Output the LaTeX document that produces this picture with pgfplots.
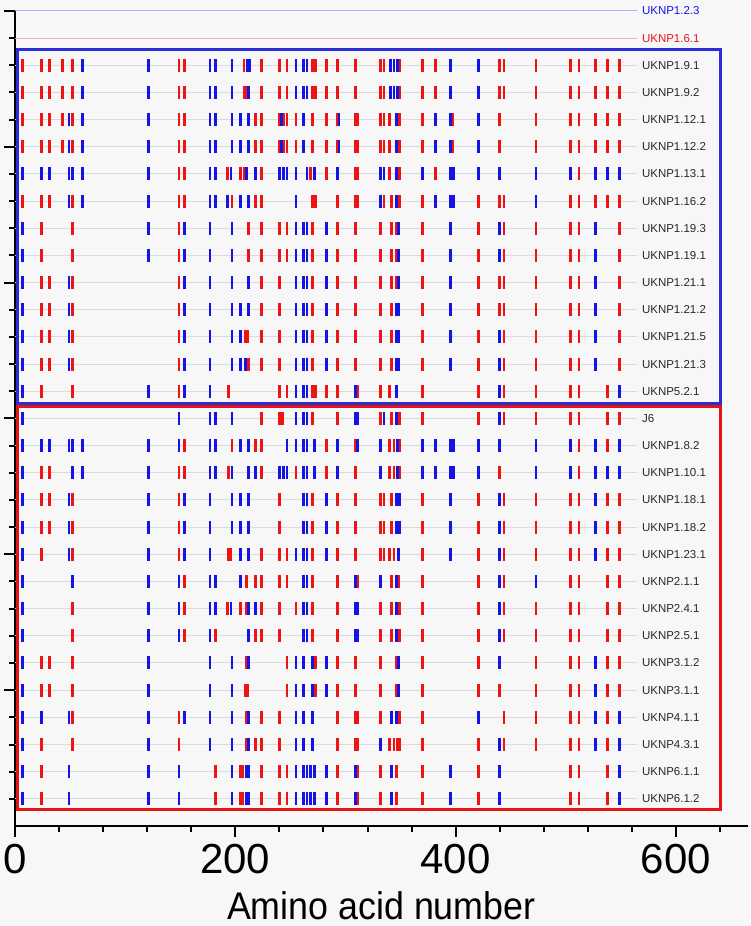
\documentclass[border=0pt]{standalone}
\usepackage{pgfplots}
\pgfplotsset{compat=1.18}
\usepackage{fontspec}
\setmainfont{Liberation Sans}
\newfontfamily\bigfont[FakeStretch=0.93]{Liberation Sans}
\definecolor{bg}{RGB}{247,247,247}
\definecolor{mred}{RGB}{238,20,20}
\definecolor{mblue}{RGB}{20,20,228}
\definecolor{rowline}{RGB}{218,218,218}
\definecolor{lblue}{RGB}{175,175,255}
\definecolor{lred}{RGB}{255,175,175}
\definecolor{boxblue}{RGB}{45,45,215}
\definecolor{boxred}{RGB}{228,20,20}
\definecolor{labgray}{RGB}{40,40,40}
\begin{document}
\begin{tikzpicture}
\useasboundingbox (-15pt,-100pt) rectangle (735pt,826pt);
\fill[bg] (-15pt,-100pt) rectangle (735pt,826pt);
\begin{axis}[
  scale only axis, width=732.6pt, height=815pt,
  xmin=0, xmax=665, ymin=0, ymax=30,
  clip=false,
  axis x line*=bottom, axis y line*=left,
  axis line style={line width=2pt, black},
  xtick={0,200,400,600}, xticklabels={0,200,400,600},
  minor xtick={40,80,120,160,240,280,320,360,440,480,520,560,640},
  ytick={5,10,15,20,25,30}, yticklabels={},
  minor ytick={1,2,...,29},
  tick align=outside,
  major tick length=10.5pt, minor tick length=5.5pt,
  every tick/.style={line width=2pt, black},
  minor tick style={line width=2pt, black},
  xticklabel style={font=\fontsize{42}{42}\selectfont, anchor=base, inner sep=0pt, yshift=-37pt},
  xlabel={Amino acid number},
  xlabel style={font=\bigfont\fontsize{38.5}{38.5}\selectfont, at={(rel axis cs:0.5,0)}, anchor=base, inner sep=0pt, yshift=-93pt},
]
% row guide lines
\addplot[xcomb, lblue, line width=1pt, mark=none] coordinates {(565,30)};
\addplot[xcomb, lred, line width=1pt, mark=none] coordinates {(565,29)};
\addplot[xcomb, rowline, line width=1pt, mark=none] coordinates {
(565,28) (565,27) (565,26) (565,25) (565,24) (565,23) (565,22) (565,21) (565,20) (565,19)
(565,18) (565,17) (565,16) (565,15) (565,14) (565,13) (565,12) (565,11) (565,10) (565,9)
(565,8) (565,7) (565,6) (565,5) (565,4) (565,3) (565,2) (565,1)};
% red residues
\addplot[only marks, mark=|, mark size=6.5pt, mred, mark options={line width=2.7pt}] coordinates {
(7,28) (24,28) (31,28) (43,28) (52,28) (149,28) (154,28) (208,28) (224,28) (240,28) (247,28) (270,28) (273,28) (283,28) (293,28) (309,28) (332,28) (335,28) (349,28) (370,28) (382,28) (440,28) (444,28) (473,28) (504,28) (512,28) (527,28) (538,28) (549,28)
(7,27) (24,27) (31,27) (43,27) (52,27) (149,27) (154,27) (208,27) (210,27) (224,27) (240,27) (247,27) (270,27) (273,27) (283,27) (293,27) (309,27) (332,27) (335,27) (349,27) (370,27) (382,27) (440,27) (444,27) (473,27) (504,27) (512,27) (527,27) (538,27) (549,27)
(7,26) (24,26) (31,26) (43,26) (52,26) (149,26) (154,26) (218,26) (224,26) (240,26) (244,26) (247,26) (255,26) (270,26) (283,26) (293,26) (309,26) (311,26) (332,26) (335,26) (340,26) (349,26) (370,26) (397,26) (440,26) (473,26) (504,26) (512,26) (527,26) (538,26) (549,26)
(7,25) (24,25) (31,25) (43,25) (52,25) (149,25) (154,25) (218,25) (224,25) (240,25) (244,25) (247,25) (255,25) (270,25) (283,25) (293,25) (309,25) (311,25) (332,25) (335,25) (340,25) (349,25) (370,25) (397,25) (440,25) (473,25) (504,25) (512,25) (527,25) (538,25) (549,25)
(149,24) (154,24) (193,24) (205,24) (208,24) (224,24) (268,24) (283,24) (309,24) (311,24) (340,24) (349,24) (382,24) (512,24)
(7,23) (24,23) (31,23) (52,23) (149,23) (154,23) (197,23) (218,23) (224,23) (270,23) (273,23) (293,23) (309,23) (311,23) (335,23) (342,23) (349,23) (370,23) (421,23) (440,23) (444,23) (504,23) (512,23) (527,23) (538,23) (549,23)
(24,22) (52,22) (149,22) (212,22) (224,22) (240,22) (247,22) (270,22) (293,22) (309,22) (332,22) (342,22) (346,22) (370,22) (421,22) (444,22) (473,22) (504,22) (512,22) (549,22)
(24,21) (52,21) (149,21) (212,21) (224,21) (240,21) (247,21) (270,21) (293,21) (309,21) (332,21) (342,21) (346,21) (370,21) (421,21) (444,21) (473,21) (504,21) (512,21) (549,21)
(24,20) (31,20) (52,20) (149,20) (224,20) (240,20) (270,20) (293,20) (309,20) (332,20) (342,20) (346,20) (370,20) (421,20) (440,20) (444,20) (473,20) (504,20) (512,20) (549,20)
(24,19) (31,19) (52,19) (149,19) (224,19) (240,19) (270,19) (293,19) (309,19) (332,19) (342,19) (370,19) (421,19) (440,19) (444,19) (473,19) (504,19) (512,19) (549,19)
(24,18) (31,18) (52,18) (149,18) (209,18) (211,18) (224,18) (240,18) (270,18) (293,18) (309,18) (332,18) (342,18) (370,18) (421,18) (444,18) (473,18) (504,18) (512,18) (549,18)
(24,17) (31,17) (52,17) (149,17) (212,17) (224,17) (240,17) (270,17) (293,17) (309,17) (332,17) (342,17) (370,17) (421,17) (444,17) (473,17) (504,17) (512,17) (549,17)
(24,16) (52,16) (149,16) (194,16) (240,16) (247,16) (270,16) (273,16) (283,16) (293,16) (311,16) (332,16) (340,16) (370,16) (421,16) (444,16) (473,16) (504,16) (512,16) (538,16)
(224,15) (240,15) (243,15) (270,15) (293,15) (332,15) (342,15) (349,15) (370,15) (421,15) (444,15) (473,15) (504,15) (512,15) (538,15) (549,15)
(154,14) (197,14) (218,14) (224,14) (283,14) (309,14) (340,14) (344,14) (349,14) (512,14) (538,14)
(24,13) (31,13) (149,13) (154,13) (194,13) (224,13) (255,13) (283,13) (309,13) (340,13) (344,13) (349,13) (440,13) (512,13)
(24,12) (31,12) (52,12) (149,12) (240,12) (270,12) (293,12) (309,12) (332,12) (335,12) (342,12) (370,12) (421,12) (444,12) (473,12) (504,12) (512,12) (538,12) (549,12)
(24,11) (31,11) (52,11) (149,11) (240,11) (270,11) (293,11) (309,11) (332,11) (335,11) (342,11) (370,11) (421,11) (444,11) (473,11) (504,11) (512,11) (538,11) (549,11)
(24,10) (52,10) (149,10) (194,10) (196,10) (224,10) (240,10) (247,10) (270,10) (293,10) (309,10) (332,10) (335,10) (340,10) (344,10) (370,10) (421,10) (444,10) (473,10) (504,10) (512,10) (538,10) (549,10)
(154,9) (210,9) (218,9) (224,9) (240,9) (247,9) (270,9) (293,9) (311,9) (342,9) (348,9) (370,9) (421,9) (444,9) (504,9) (512,9) (538,9) (549,9)
(52,8) (154,8) (193,8) (205,8) (210,8) (224,8) (240,8) (255,8) (270,8) (293,8) (332,8) (342,8) (349,8) (370,8) (421,8) (444,8) (473,8) (504,8) (512,8) (538,8) (549,8)
(52,7) (154,7) (182,7) (218,7) (224,7) (240,7) (270,7) (293,7) (332,7) (342,7) (349,7) (370,7) (421,7) (444,7) (473,7) (504,7) (512,7) (538,7) (549,7)
(24,6) (31,6) (52,6) (210,6) (247,6) (273,6) (293,6) (309,6) (332,6) (346,6) (370,6) (421,6) (473,6) (504,6) (512,6) (538,6) (549,6)
(24,5) (31,5) (52,5) (209,5) (211,5) (247,5) (273,5) (293,5) (309,5) (332,5) (346,5) (370,5) (421,5) (440,5) (473,5) (504,5) (512,5) (538,5) (549,5)
(52,4) (149,4) (210,4) (224,4) (240,4) (293,4) (309,4) (311,4) (332,4) (349,4) (370,4) (444,4) (473,4) (504,4) (512,4) (538,4)
(24,3) (52,3) (149,3) (210,3) (218,3) (224,3) (240,3) (293,3) (309,3) (311,3) (340,3) (344,3) (347,3) (349,3) (370,3) (421,3) (444,3) (473,3) (504,3) (512,3) (538,3)
(24,2) (182,2) (205,2) (207,2) (224,2) (240,2) (247,2) (293,2) (311,2) (332,2) (346,2) (370,2) (421,2) (504,2) (512,2) (538,2)
(24,1) (182,1) (205,1) (207,1) (224,1) (240,1) (247,1) (293,1) (311,1) (332,1) (346,1) (370,1) (421,1) (504,1) (512,1) (538,1)
};
% blue residues
\addplot[only marks, mark=|, mark size=6.5pt, mblue, mark options={line width=2.7pt}] coordinates {
(61,28) (121,28) (177,28) (182,28) (197,28) (211,28) (213,28) (255,28) (262,28) (265,28) (341,28) (344,28) (347,28) (395,28) (421,28)
(61,27) (121,27) (177,27) (182,27) (197,27) (212,27) (255,27) (262,27) (265,27) (341,27) (344,27) (347,27) (395,27) (421,27)
(49,26) (61,26) (121,26) (177,26) (182,26) (197,26) (205,26) (212,26) (242,26) (262,26) (294,26) (346,26) (382,26) (395,26) (421,26)
(49,25) (61,25) (121,25) (177,25) (182,25) (197,25) (205,25) (212,25) (242,25) (262,25) (294,25) (346,25) (382,25) (395,25) (421,25)
(7,24) (24,24) (31,24) (49,24) (52,24) (61,24) (121,24) (177,24) (182,24) (196,24) (210,24) (218,24) (240,24) (244,24) (247,24) (255,24) (265,24) (272,24) (293,24) (332,24) (335,24) (346,24) (370,24) (395,24) (398,24) (421,24) (440,24) (473,24) (504,24) (527,24) (538,24) (549,24)
(49,23) (61,23) (121,23) (177,23) (182,23) (193,23) (205,23) (212,23) (255,23) (332,23) (346,23) (382,23) (395,23) (398,23) (473,23)
(7,22) (121,22) (154,22) (177,22) (197,22) (255,22) (262,22) (265,22) (283,22) (348,22) (395,22) (440,22) (527,22)
(7,21) (121,21) (154,21) (177,21) (197,21) (255,21) (262,21) (265,21) (283,21) (348,21) (395,21) (440,21) (527,21)
(7,20) (49,20) (154,20) (177,20) (197,20) (212,20) (255,20) (262,20) (265,20) (283,20) (348,20) (395,20) (527,20)
(7,19) (49,19) (154,19) (177,19) (197,19) (205,19) (212,19) (255,19) (262,19) (265,19) (283,19) (346,19) (348,19) (395,19) (527,19)
(7,18) (49,18) (154,18) (177,18) (197,18) (205,18) (255,18) (262,18) (265,18) (283,18) (346,18) (348,18) (395,18) (440,18) (527,18)
(7,17) (49,17) (154,17) (177,17) (197,17) (205,17) (209,17) (255,17) (262,17) (265,17) (283,17) (346,17) (348,17) (395,17) (440,17) (527,17)
(7,16) (121,16) (154,16) (177,16) (255,16) (262,16) (265,16) (309,16) (346,16) (440,16) (549,16)
(7,15) (149,15) (177,15) (182,15) (197,15) (255,15) (262,15) (265,15) (309,15) (311,15) (335,15) (346,15) (440,15)
(7,14) (24,14) (31,14) (49,14) (52,14) (61,14) (121,14) (149,14) (177,14) (182,14) (205,14) (212,14) (247,14) (255,14) (262,14) (265,14) (272,14) (293,14) (311,14) (332,14) (347,14) (370,14) (382,14) (395,14) (398,14) (421,14) (440,14) (473,14) (504,14) (527,14) (549,14)
(7,13) (52,13) (61,13) (121,13) (177,13) (182,13) (197,13) (212,13) (218,13) (240,13) (244,13) (247,13) (262,13) (265,13) (272,13) (293,13) (332,13) (347,13) (370,13) (382,13) (395,13) (398,13) (421,13) (473,13) (504,13) (527,13) (538,13) (549,13)
(7,12) (49,12) (121,12) (154,12) (177,12) (197,12) (205,12) (212,12) (262,12) (265,12) (283,12) (346,12) (349,12) (395,12) (440,12) (527,12)
(7,11) (49,11) (121,11) (154,11) (177,11) (197,11) (205,11) (212,11) (262,11) (265,11) (283,11) (346,11) (349,11) (395,11) (440,11) (527,11)
(7,10) (49,10) (121,10) (154,10) (177,10) (205,10) (212,10) (255,10) (262,10) (265,10) (283,10) (348,10) (395,10) (440,10) (527,10)
(7,9) (52,9) (121,9) (149,9) (177,9) (182,9) (205,9) (262,9) (265,9) (309,9) (332,9) (346,9) (440,9) (473,9)
(7,8) (121,8) (149,8) (177,8) (182,8) (196,8) (212,8) (218,8) (262,8) (265,8) (309,8) (311,8) (346,8) (440,8)
(7,7) (121,7) (149,7) (177,7) (212,7) (262,7) (265,7) (309,7) (311,7) (346,7) (440,7)
(7,6) (121,6) (177,6) (197,6) (212,6) (255,6) (262,6) (270,6) (283,6) (348,6) (440,6) (527,6)
(7,5) (121,5) (177,5) (197,5) (255,5) (262,5) (270,5) (283,5) (348,5) (527,5)
(7,4) (24,4) (49,4) (121,4) (154,4) (177,4) (197,4) (212,4) (255,4) (262,4) (270,4) (342,4) (346,4) (421,4) (527,4) (549,4)
(7,3) (121,3) (177,3) (197,3) (212,3) (255,3) (262,3) (270,3) (332,3) (440,3) (527,3) (549,3)
(7,2) (49,2) (121,2) (149,2) (197,2) (210,2) (212,2) (255,2) (262,2) (265,2) (268,2) (272,2) (283,2) (309,2) (342,2) (395,2) (440,2) (549,2)
(7,1) (49,1) (121,1) (149,1) (197,1) (210,1) (212,1) (255,1) (262,1) (265,1) (268,1) (272,1) (283,1) (309,1) (342,1) (395,1) (440,1) (549,1)
};
% group boxes
\draw[boxblue, line width=3pt] (axis cs:2.7,28.57) rectangle (axis cs:640,15.57);
\draw[boxred, line width=3pt] (axis cs:2.7,15.45) rectangle (axis cs:640,0.62);
% row labels
\begin{scope}[every node/.style={anchor=west, inner sep=0pt, font=\fontsize{11.5}{12}\selectfont, text=labgray}]
\node[text=mblue] at (axis cs:569,30) {UKNP1.2.3};
\node[text=mred] at (axis cs:569,29) {UKNP1.6.1};
\node at (axis cs:569,28) {UKNP1.9.1};
\node at (axis cs:569,27) {UKNP1.9.2};
\node at (axis cs:569,26) {UKNP1.12.1};
\node at (axis cs:569,25) {UKNP1.12.2};
\node at (axis cs:569,24) {UKNP1.13.1};
\node at (axis cs:569,23) {UKNP1.16.2};
\node at (axis cs:569,22) {UKNP1.19.3};
\node at (axis cs:569,21) {UKNP1.19.1};
\node at (axis cs:569,20) {UKNP1.21.1};
\node at (axis cs:569,19) {UKNP1.21.2};
\node at (axis cs:569,18) {UKNP1.21.5};
\node at (axis cs:569,17) {UKNP1.21.3};
\node at (axis cs:569,16) {UKNP5.2.1};
\node at (axis cs:569,15) {J6};
\node at (axis cs:569,14) {UKNP1.8.2};
\node at (axis cs:569,13) {UKNP1.10.1};
\node at (axis cs:569,12) {UKNP1.18.1};
\node at (axis cs:569,11) {UKNP1.18.2};
\node at (axis cs:569,10) {UKNP1.23.1};
\node at (axis cs:569,9) {UKNP2.1.1};
\node at (axis cs:569,8) {UKNP2.4.1};
\node at (axis cs:569,7) {UKNP2.5.1};
\node at (axis cs:569,6) {UKNP3.1.2};
\node at (axis cs:569,5) {UKNP3.1.1};
\node at (axis cs:569,4) {UKNP4.1.1};
\node at (axis cs:569,3) {UKNP4.3.1};
\node at (axis cs:569,2) {UKNP6.1.1};
\node at (axis cs:569,1) {UKNP6.1.2};
\end{scope}
\end{axis}
\end{tikzpicture}
\end{document}
